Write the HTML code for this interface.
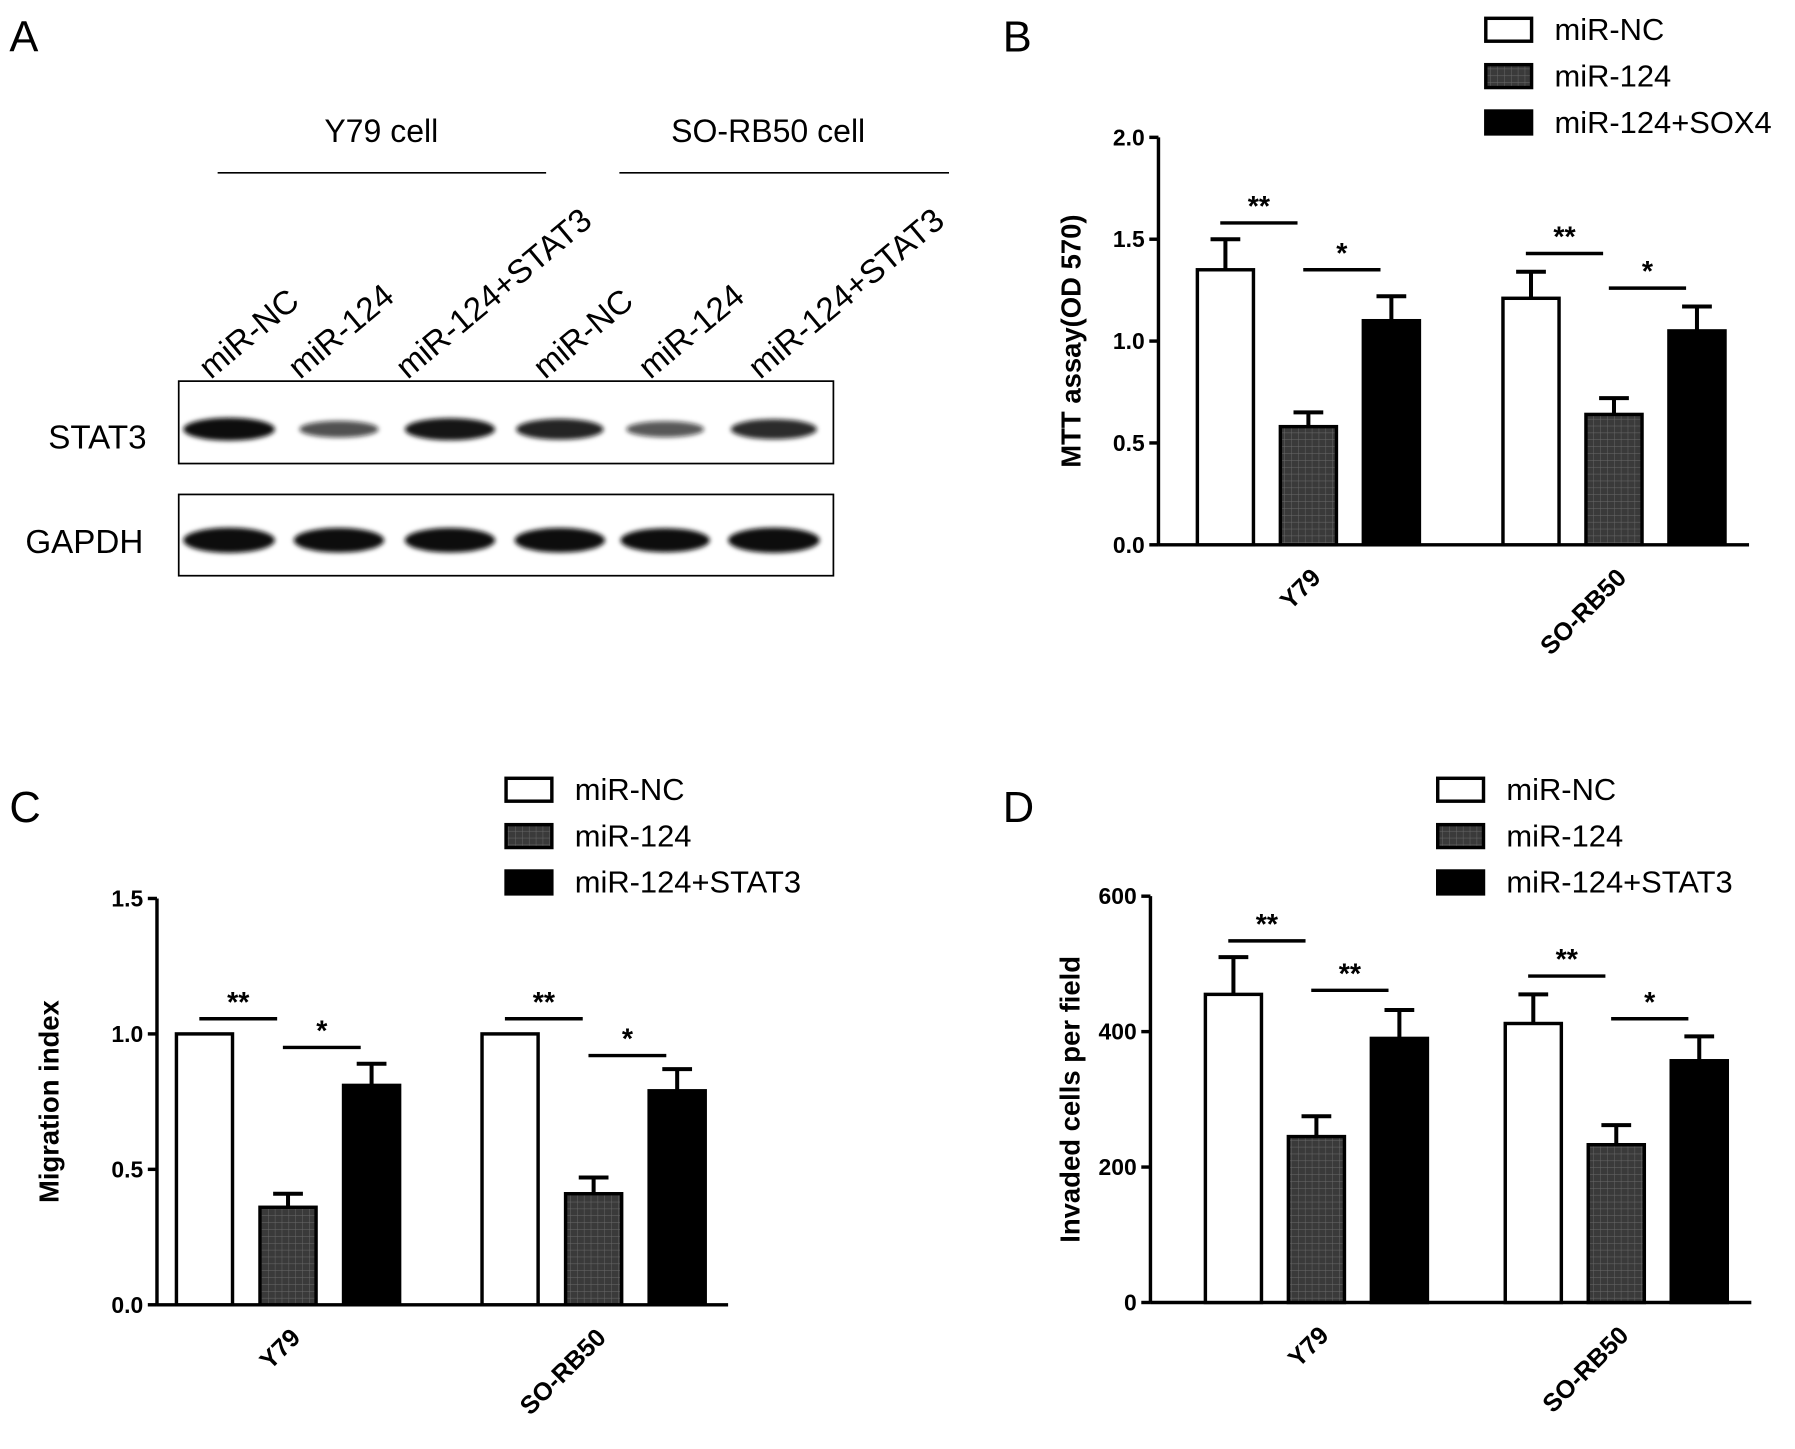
<!DOCTYPE html>
<html><head><meta charset="utf-8"><style>
html,body{margin:0;padding:0;background:#fff}
svg{display:block}
text{font-family:"Liberation Sans",Arial,sans-serif}
</style></head><body>
<svg id="fig" width="1795" height="1449" viewBox="0 0 1568 1266" xmlns="http://www.w3.org/2000/svg">
<defs>
<pattern id="hatch" width="6" height="6" patternUnits="userSpaceOnUse">
<rect width="6" height="6" fill="#3a3a3a"/><path d="M0 0H6M0 0V6" stroke="#6a6a6a" stroke-width="0.8"/>
</pattern>
<filter id="blur" x="-20%" y="-50%" width="140%" height="200%"><feGaussianBlur stdDeviation="2.2"/></filter>
</defs>

<g>
<text x="8" y="45" font-size="38">A</text>
<text x="333" y="124" font-size="28" text-anchor="middle">Y79 cell</text>
<line x1="190" y1="151" x2="477" y2="151" stroke="#000" stroke-width="1.5"/>
<text x="671" y="124" font-size="28" text-anchor="middle">SO-RB50 cell</text>
<line x1="541" y1="151" x2="829" y2="151" stroke="#000" stroke-width="1.5"/>
<g font-size="29">
<text transform="translate(184,332) rotate(-40)">miR-NC</text>
<text transform="translate(262,332) rotate(-40)">miR-124</text>
<text transform="translate(356,332) rotate(-40)">miR-124+STAT3</text>
<text transform="translate(476,332) rotate(-40)">miR-NC</text>
<text transform="translate(568,332) rotate(-40)">miR-124</text>
<text transform="translate(664,332) rotate(-40)">miR-124+STAT3</text>
</g>
<rect x="156" y="333" width="572" height="72" fill="#fff" stroke="#000" stroke-width="1.5"/>
<rect x="156" y="432" width="572" height="71" fill="#fff" stroke="#000" stroke-width="1.5"/>
<text x="42" y="392" font-size="29">STAT3</text>
<text x="22" y="483" font-size="29">GAPDH</text>
<g id="bands" filter="url(#blur)"></g>
</g>

<g id="pB"></g><g id="pC"></g><g id="pD"></g>
</svg>
<script>
const NS="http://www.w3.org/2000/svg";
// Western blot band intensities
const stat3Bands=[1.0,0.55,0.95,0.85,0.5,0.8];
const gapdhBands=[1.0,0.95,0.95,0.95,0.9,1.0];
// Panel B
const catsB=["Y79","SO-RB50"];
const seriesB=["miR-NC","miR-124","miR-124+SOX4"];
const valsB=[[1.35,0.58,1.10],[1.21,0.64,1.05]];
const errB=[[0.15,0.07,0.12],[0.13,0.08,0.12]];
const ticksB=["0.0","0.5","1.0","1.5","2.0"];
const sigB=[["**","*"],["**","*"]];
const sigLevB=[[1.58,1.35],[1.43,1.26]];
// Panel C
const catsC=["Y79","SO-RB50"];
const seriesC=["miR-NC","miR-124","miR-124+STAT3"];
const valsC=[[1.0,0.36,0.81],[1.0,0.41,0.79]];
const errC=[[0,0.05,0.08],[0,0.06,0.08]];
const ticksC=["0.0","0.5","1.0","1.5"];
const sigC=[["**","*"],["**","*"]];
const sigLevC=[[1.056,0.95],[1.056,0.92]];
// Panel D
const catsD=["Y79","SO-RB50"];
const seriesD=["miR-NC","miR-124","miR-124+STAT3"];
const valsD=[[455,245,390],[412,233,357]];
const errD=[[55,30,42],[43,29,36]];
const ticksD=["0","200","400","600"];
const sigD=[["**","**"],["**","*"]];
const sigLevD=[[534,461],[482,419]];

function mk(p,tag,at,txt){const e=document.createElementNS(NS,tag);for(const k in at)e.setAttribute(k,at[k]);if(txt!==undefined)e.textContent=txt;p.appendChild(e);return e;}

const bands=document.getElementById('bands');
const laneX=[200,296,393,489,581,676];
stat3Bands.forEach((v,i)=>{const e=mk(bands,'ellipse',{cx:laneX[i],cy:375,rx:28+12*v,ry:4+6*v,fill:'#111','fill-opacity':0.4+0.6*v});

});
gapdhBands.forEach((v,i)=>{const e=mk(bands,'ellipse',{cx:laneX[i],cy:472,rx:30+10*v,ry:6+5*v,fill:'#111'});

});

function panel(id,o){
 const g=document.getElementById(id);
 
 
 const y=v=>o.y0-(v-o.vmin)/(o.vmax-o.vmin)*(o.y0-o.ytop);
 let t=mk(g,'text',{x:o.lx,y:o.ly,'font-size':38},o.letter);
 
 
 let a=mk(g,'line',{x1:o.ax,y1:o.ytop,x2:o.ax,y2:o.y0,stroke:'#000','stroke-width':3});
 
 
 a=mk(g,'line',{x1:o.ax,y1:o.y0,x2:o.xend,y2:o.y0,stroke:'#000','stroke-width':3});
 
 
 o.ticks.forEach(tl=>{const v=parseFloat(tl),yy=y(v);
  const l=mk(g,'line',{x1:o.ax-8,y1:yy,x2:o.ax,y2:yy,stroke:'#000','stroke-width':3});
  
  
  const tx=mk(g,'text',{x:o.ax-12,y:yy+7,'font-size':20,'font-weight':'bold','text-anchor':'end'},tl);
  
  });
 const yt=mk(g,'text',{transform:`translate(${o.ytx},${(o.ytop+o.y0)/2}) rotate(-90)`,'font-size':24,'font-weight':'bold','text-anchor':'middle'},o.ytitle);
 
 
 const fills=['#fff','url(#hatch)','#000'];
 o.cats.forEach((c,ci)=>{
  o.vals[ci].forEach((v,si)=>{
   const x=o.bx[ci]+si*o.step, top=y(v), e=o.err[ci][si];
   if(e>0){const ey=y(v+e),cx=x+o.bw/2;
    const l=mk(g,'path',{d:`M${cx} ${top}V${ey}M${cx-13} ${ey}H${cx+13}`,stroke:'#000','stroke-width':3.5,fill:'none'});
    
    }
   const r=mk(g,'rect',{x:x,y:top,width:o.bw,height:o.y0-top,fill:fills[si],stroke:'#000','stroke-width':3});
   
   
  });
  for(let k=0;k<2;k++){
   const x1=o.bx[ci]+k*o.step+20, x2=o.bx[ci]+(k+1)*o.step+15;
   const sy=y(o.sigLev[ci][k]);
   const l=mk(g,'line',{x1:x1,y1:sy,x2:x2,y2:sy,stroke:'#000','stroke-width':3});
   
   
   const s=mk(g,'text',{x:(x1+x2)/2,y:sy-6,'font-size':25,'font-weight':'bold','text-anchor':'middle'},o.sig[ci][k]);
   
   
  }
  const cx=o.bx[ci]+o.step+o.bw/2;
  const xl=mk(g,'text',{transform:`translate(${cx+12},${o.y0+30}) rotate(-45)`,'font-size':22,'font-weight':'bold','text-anchor':'end'},c);
  
  
 });
 o.series.forEach((s,si)=>{
  const yy=o.legY+si*40.5;
  const r=mk(g,'rect',{x:o.legX,y:yy,width:40,height:20,fill:fills[si],stroke:'#000','stroke-width':3});
  
  
  const tx=mk(g,'text',{x:o.legX+60,y:yy+19,'font-size':27},s);
  
  
 });
}
panel('pB',{name:'panel-b',letter:'B',lx:876,ly:45,ax:1012,y0:476,ytop:120,vmin:0,vmax:2,xend:1528,ticks:ticksB,ytx:944,ytitle:'MTT assay(OD 570)',
 cats:catsB,series:seriesB,vals:valsB,err:errB,sig:sigB,sigLev:sigLevB,bx:[1046,1313],step:72.5,bw:49,legX:1298,legY:16});
panel('pC',{name:'panel-c',letter:'C',lx:8,ly:718,ax:137,y0:1140,ytop:785,vmin:0,vmax:1.5,xend:636,ticks:ticksC,ytx:51,ytitle:'Migration index',
 cats:catsC,series:seriesC,vals:valsC,err:errC,sig:sigC,sigLev:sigLevC,bx:[154,421],step:73,bw:49,legX:442,legY:680});
panel('pD',{name:'panel-d',letter:'D',lx:876,ly:718,ax:1005,y0:1138,ytop:783,vmin:0,vmax:600,xend:1530,ticks:ticksD,ytx:943,ytitle:'Invaded cells per field',
 cats:catsD,series:seriesD,vals:valsD,err:errD,sig:sigD,sigLev:sigLevD,bx:[1053,1315],step:72.5,bw:49,legX:1256,legY:680});
</script>
</body></html>
